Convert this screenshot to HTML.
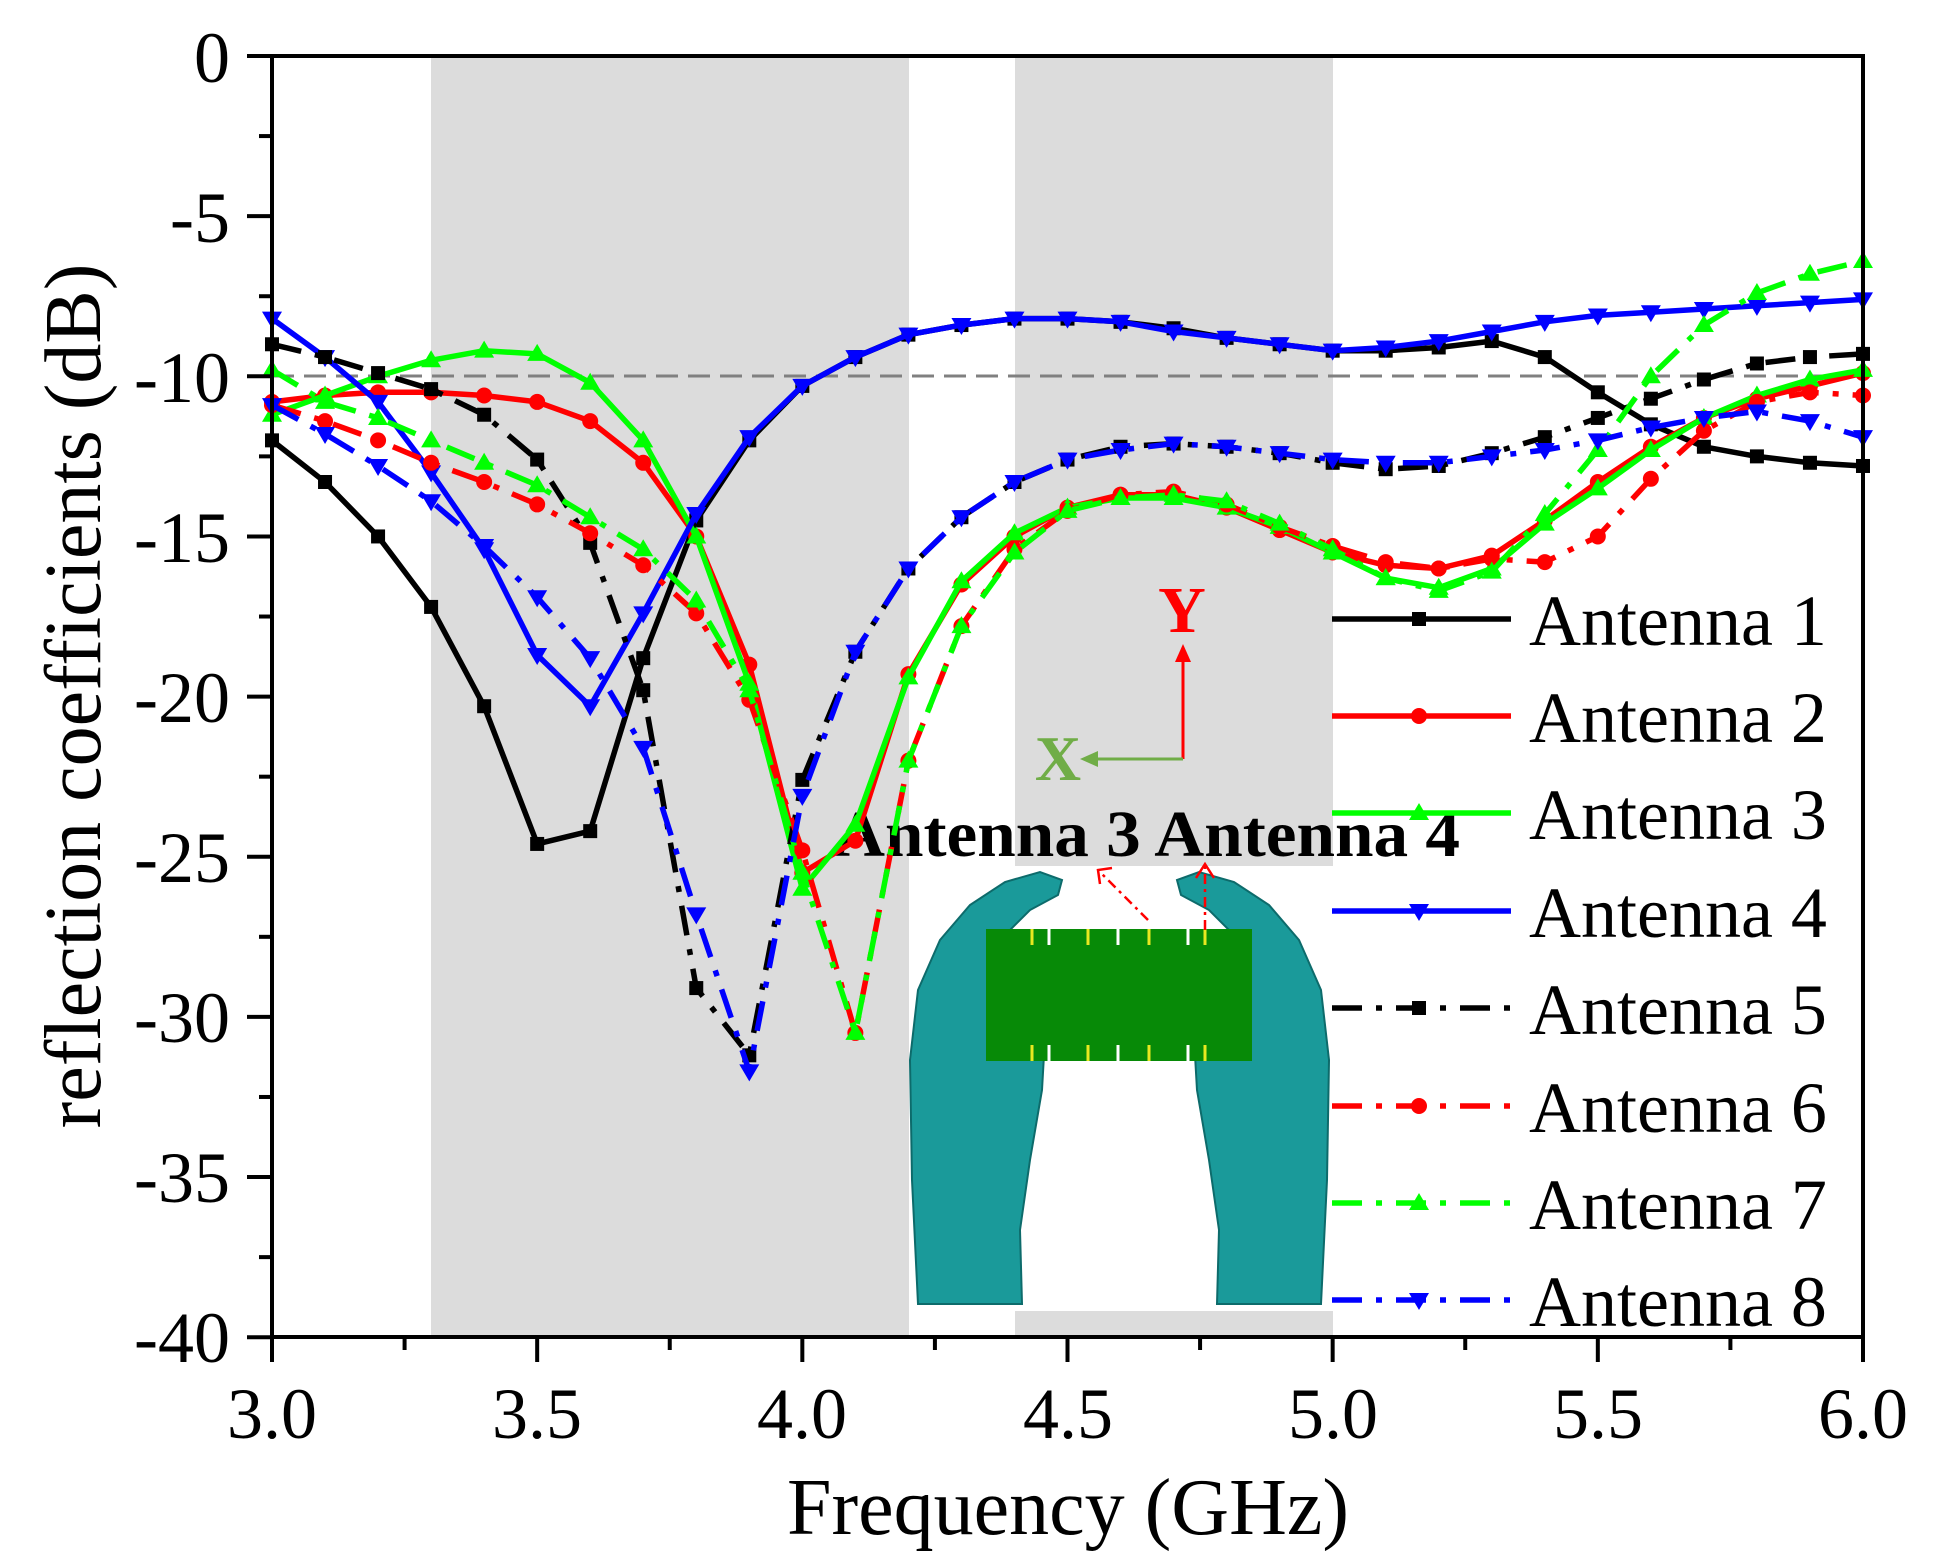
<!DOCTYPE html>
<html><head><meta charset="utf-8"><style>
html,body{margin:0;padding:0;background:#fff;}
svg{display:block;font-family:"Liberation Serif",serif;}
</style></head><body>
<svg id="s" width="1938" height="1568" viewBox="0 0 1938 1568" xmlns="http://www.w3.org/2000/svg">
<rect width="1938" height="1568" fill="#fff"/>
<rect x="431" y="56" width="478" height="1281" fill="#dcdcdc"/>
<rect x="1015" y="56" width="318" height="1281" fill="#dcdcdc"/>
<rect x="909" y="866" width="426" height="445" fill="#fff"/>
<rect x="1334" y="578" width="526" height="756" fill="#fff"/>
<g id="hands"></g>
<rect x="986" y="929" width="266" height="132" fill="#078a07"/>
<g stroke="#e8e820" stroke-width="3">
<line x1="1032" y1="929" x2="1032" y2="945"/><line x1="1088" y1="929" x2="1088" y2="945"/><line x1="1149" y1="929" x2="1149" y2="945"/><line x1="1205" y1="929" x2="1205" y2="945"/>
<line x1="1032" y1="1045" x2="1032" y2="1061"/><line x1="1088" y1="1045" x2="1088" y2="1061"/><line x1="1149" y1="1045" x2="1149" y2="1061"/><line x1="1205" y1="1045" x2="1205" y2="1061"/>
</g>
<g stroke="#fff" stroke-width="3">
<line x1="1049" y1="929" x2="1049" y2="945"/><line x1="1118" y1="929" x2="1118" y2="945"/><line x1="1188" y1="929" x2="1188" y2="945"/>
<line x1="1049" y1="1045" x2="1049" y2="1061"/><line x1="1118" y1="1045" x2="1118" y2="1061"/><line x1="1188" y1="1045" x2="1188" y2="1061"/>
</g>
<g stroke="#f00" stroke-width="2.5" fill="none" stroke-dasharray="10 5 3 5">
<line x1="1148" y1="920" x2="1100" y2="872"/><line x1="1205" y1="930" x2="1205" y2="866"/>
</g>
<g stroke="#f00" stroke-width="2.5" fill="none"><polyline points="1112,868 1098,870 1100,884"/><polyline points="1196,878 1205,864 1214,878"/></g>
<line x1="1183" y1="759" x2="1183" y2="660" stroke="#f00" stroke-width="3"/>
<polygon points="1183,644 1175,662 1191,662" fill="#f00"/>
<line x1="1183" y1="759" x2="1095" y2="759" stroke="#70ad47" stroke-width="3"/>
<polygon points="1080,759 1098,751 1098,767" fill="#70ad47"/>
<text x="1182" y="632" font-size="66" font-weight="bold" fill="#f00" text-anchor="middle">Y</text>
<text x="1058" y="780" font-size="64" font-weight="bold" fill="#70ad47" text-anchor="middle">X</text>
<text x="835" y="856" font-size="66" font-weight="bold" fill="#000" textLength="625" lengthAdjust="spacingAndGlyphs">Antenna 3 Antenna 4</text>
<line x1="272" y1="376" x2="1863" y2="376" stroke="#808080" stroke-width="3" stroke-dasharray="22 10"/>
<g id="series"></g>
<g id="axes" stroke="#000" stroke-width="4" fill="none"><rect x="272" y="56" width="1591" height="1281"/></g>
<g font-size="72" fill="#000" text-anchor="end">
<text x="230" y="82">0</text><text x="230" y="242">-5</text><text x="230" y="402">-10</text><text x="230" y="562">-15</text><text x="230" y="722">-20</text><text x="230" y="882">-25</text><text x="230" y="1042">-30</text><text x="230" y="1202">-35</text><text x="230" y="1362">-40</text>
</g>
<g font-size="72" fill="#000" text-anchor="middle">
<text x="272" y="1438">3.0</text><text x="537" y="1438">3.5</text><text x="802" y="1438">4.0</text><text x="1068" y="1438">4.5</text><text x="1333" y="1438">5.0</text><text x="1598" y="1438">5.5</text><text x="1863" y="1438">6.0</text>
</g>
<text x="1068" y="1534" font-size="80" text-anchor="middle">Frequency (GHz)</text>
<text transform="translate(100,696) rotate(-90)" font-size="80" text-anchor="middle">reflection coefficients (dB)</text>
<g font-size="72" fill="#000">
<text x="1529" y="645">Antenna 1</text><text x="1529" y="742">Antenna 2</text><text x="1529" y="839">Antenna 3</text><text x="1529" y="937">Antenna 4</text><text x="1529" y="1034">Antenna 5</text><text x="1529" y="1132">Antenna 6</text><text x="1529" y="1229">Antenna 7</text><text x="1529" y="1326">Antenna 8</text>
</g>
<g id="legend"></g>
</svg>
<script>
var NS="http://www.w3.org/2000/svg";
function el(t,a,p){var e=document.createElementNS(NS,t);for(var k in a)e.setAttribute(k,a[k]);p.appendChild(e);return e;}
var X=function(f){return 272+(f-3)*530.33},Y=function(d){return 56-d*32.03};
var ax=document.getElementById('axes');
for(var v=0;v>=-40;v-=2.5){var maj=(v%5===0);el('line',{x1:272,x2:maj?247:259,y1:Y(v),y2:Y(v)},ax);}
for(var f=3;f<=6.001;f+=0.25){var maj=Math.abs(f*2-Math.round(f*2))<1e-6;el('line',{x1:X(f),x2:X(f),y1:1337,y2:maj?1362:1350},ax);}
var D=[
["#000","s",0,[-12.0,-13.3,-15.0,-17.2,-20.3,-24.6,-24.2,-18.8,-14.5,-12.0,-10.3,-9.4,-8.7,-8.4,-8.2,-8.2,-8.3,-8.5,-8.8,-9.0,-9.2,-9.2,-9.1,-8.9,-9.4,-10.5,-11.5,-12.2,-12.5,-12.7,-12.8]],
["#f00","c",0,[-10.8,-10.6,-10.5,-10.5,-10.6,-10.8,-11.4,-12.7,-15.0,-19.0,-25.5,-24.5,-19.3,-16.5,-15.0,-14.1,-13.7,-13.7,-14.1,-14.8,-15.5,-15.9,-16.0,-15.6,-14.5,-13.3,-12.2,-11.3,-10.7,-10.3,-9.9]],
["#0f0","u",0,[-11.2,-10.6,-10.0,-9.5,-9.2,-9.3,-10.2,-12.0,-15.0,-19.6,-26.0,-24.0,-19.4,-16.4,-14.9,-14.1,-13.8,-13.8,-14.1,-14.7,-15.5,-16.3,-16.6,-16.0,-14.6,-13.5,-12.3,-11.3,-10.6,-10.1,-9.8]],
["#00f","d",0,[-8.2,-9.4,-10.8,-13.0,-15.4,-18.7,-20.3,-17.4,-14.3,-11.9,-10.3,-9.4,-8.7,-8.4,-8.2,-8.2,-8.3,-8.6,-8.8,-9.0,-9.2,-9.1,-8.9,-8.6,-8.3,-8.1,-8.0,-7.9,-7.8,-7.7,-7.6]],
["#000","s",1,[-9.0,-9.4,-9.9,-10.4,-11.2,-12.6,-15.2,-19.8,-29.1,-31.2,-22.6,-18.6,-16.0,-14.4,-13.3,-12.6,-12.2,-12.1,-12.2,-12.4,-12.7,-12.9,-12.8,-12.4,-11.9,-11.3,-10.7,-10.1,-9.6,-9.4,-9.3]],
["#f00","c",1,[-10.9,-11.4,-12.0,-12.7,-13.3,-14.0,-14.9,-15.9,-17.4,-20.1,-24.8,-30.5,-22.0,-17.8,-15.4,-14.2,-13.7,-13.6,-14.0,-14.7,-15.3,-15.8,-16.0,-15.7,-15.8,-15.0,-13.2,-11.7,-10.8,-10.5,-10.6]],
["#0f0","u",1,[-9.8,-10.8,-11.3,-12.0,-12.7,-13.4,-14.4,-15.4,-17.0,-19.8,-25.5,-30.5,-22.0,-17.8,-15.5,-14.2,-13.8,-13.7,-13.9,-14.6,-15.4,-16.3,-16.7,-16.1,-14.3,-12.3,-10.0,-8.4,-7.4,-6.8,-6.4]],
["#00f","d",1,[-10.9,-11.8,-12.8,-13.9,-15.3,-16.9,-18.8,-21.6,-26.8,-31.7,-23.1,-18.6,-16.0,-14.4,-13.3,-12.6,-12.3,-12.1,-12.2,-12.4,-12.6,-12.7,-12.7,-12.5,-12.3,-12.0,-11.6,-11.3,-11.1,-11.4,-11.9]]];
function mark(t,x,y,c,p){
 if(t=="s")el('rect',{x:x-7,y:y-7,width:14,height:14,fill:c},p);
 else if(t=="c")el('circle',{cx:x,cy:y,r:8,fill:c},p);
 else if(t=="u")el('polygon',{points:(x-10)+","+(y+7)+" "+(x+10)+","+(y+7)+" "+x+","+(y-10),fill:c},p);
 else el('polygon',{points:(x-10)+","+(y-7)+" "+(x+10)+","+(y-7)+" "+x+","+(y+10),fill:c},p);}
var S=document.getElementById('series'),L=document.getElementById('legend');
var ly=[619,716,813,911,1008,1106,1203,1300];
var DA="30 14 6 14";
D.forEach(function(d,i){
 var pts=d[3].map(function(v,j){return X(3+j*0.1).toFixed(1)+","+Y(v).toFixed(1)}).join(" ");
 var a={points:pts,fill:"none",stroke:d[0],"stroke-width":5.5,"stroke-linejoin":"round"};
 if(d[2])a["stroke-dasharray"]=DA;
 el('polyline',a,S);
 d[3].forEach(function(v,j){mark(d[1],X(3+j*0.1),Y(v),d[0],S)});
 var b={x1:1332,x2:1511,y1:ly[i],y2:ly[i],stroke:d[0],"stroke-width":5.5};
 if(d[2])b["stroke-dasharray"]=DA;
 el('line',b,L);mark(d[1],1419,ly[i],d[0],L);
});
var H=document.getElementById('hands');
var lh=[[918,1304],[912,1180],[910,1060],[918,990],[940,940],[970,905],[1005,882],[1040,872],[1062,880],[1058,895],[1030,910],[1005,935],[992,975],[990,1040],[1000,1050],[1005,1000],[1020,982],[1038,985],[1046,1020],[1042,1090],[1030,1160],[1020,1230],[1022,1304]];
function poly(pts){return pts.map(function(p){return p[0]+","+p[1]}).join(" ")}
el('polygon',{points:poly(lh),fill:"#1a9a9a",stroke:"#0d6b6b","stroke-width":2},H);
el('polygon',{points:poly(lh.map(function(p){return [2239-p[0],p[1]]})),fill:"#1a9a9a",stroke:"#0d6b6b","stroke-width":2},H);
</script>
</body></html>
